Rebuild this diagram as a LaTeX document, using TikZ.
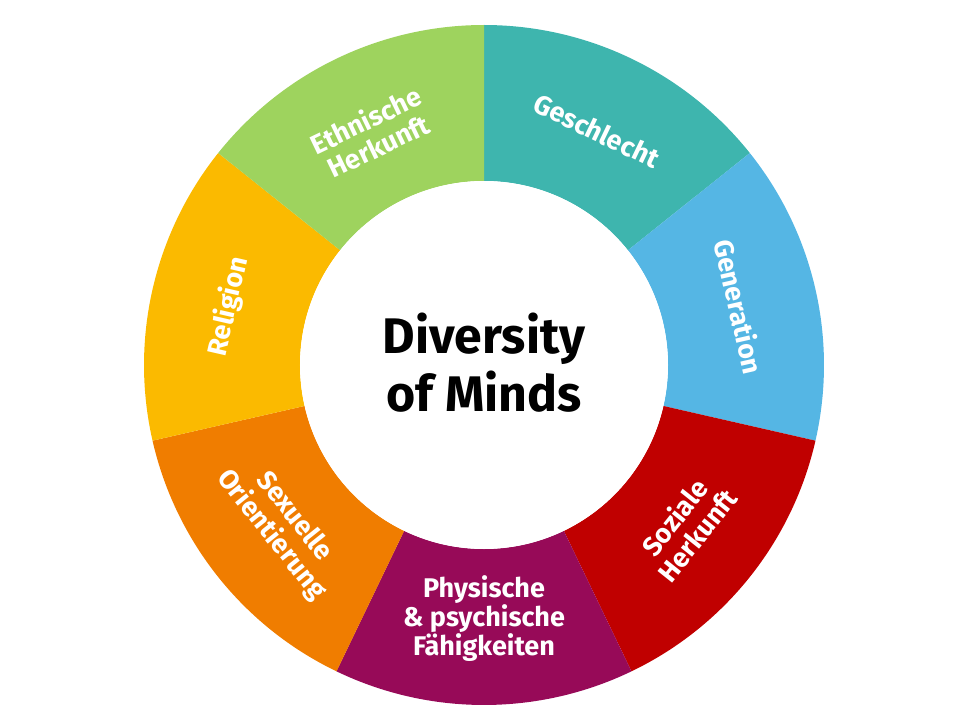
\documentclass[tikz,border=0pt]{standalone}
\usepackage{fontspec}
\setmainfont{Fira Sans}
\definecolor{cGes}{HTML}{3EB5AE}
\definecolor{cGen}{HTML}{55B6E4}
\definecolor{cSoz}{HTML}{C00000}
\definecolor{cPhy}{HTML}{970A58}
\definecolor{cSex}{HTML}{F07D00}
\definecolor{cRel}{HTML}{FBBA00}
\definecolor{cEth}{HTML}{9ED35E}
\tikzset{lab/.style={text=white,font=\fontsize{27}{29}\selectfont\bfseries,align=center,inner sep=0pt}}
\begin{document}
\begin{tikzpicture}[x=1pt,y=1pt]
\useasboundingbox (-484,-361) rectangle (484,365);
\foreach \a/\c in {90/cGes,38.57/cGen,-12.86/cSoz,-64.29/cPhy,-115.71/cSex,-167.14/cRel,141.43/cEth}{
  \pgfmathsetmacro{\b}{\a-51.43}
  \fill[\c] (\a:184) -- (\a:340) arc[start angle=\a,end angle=\b,radius=340] -- (\b:184) arc[start angle=\b,end angle=\a,radius=184] -- cycle;
}
\node[circle,fill=white,minimum size=368pt,inner sep=0pt] (center) at (0,0) {};
\node[font=\fontsize{50}{58}\selectfont\bfseries,align=center] (title) at (0,2) {Diversity\\of Minds};
\node[lab,rotate=-25.7] (ges) at (64.3:260) {Geschlecht};
\node[lab,rotate=-77.1] (gen) at (12.9:262) {Generation};
\node[lab,rotate=51.4] (soz) at (-38.6:258) {Soziale\\Herkunft};
\node[lab,rotate=0] (phy) at (-90:254) {Physische\\\& psychische\\Fähigkeiten};
\node[lab,rotate=-51.4] (sex) at (218.6:258) {Sexuelle\\Orientierung};
\node[lab,rotate=77.1] (rel) at (167.1:262) {Religion};
\node[lab,rotate=25.7] (eth) at (115.7:258) {Ethnische\\Herkunft};
\end{tikzpicture}
\end{document}
